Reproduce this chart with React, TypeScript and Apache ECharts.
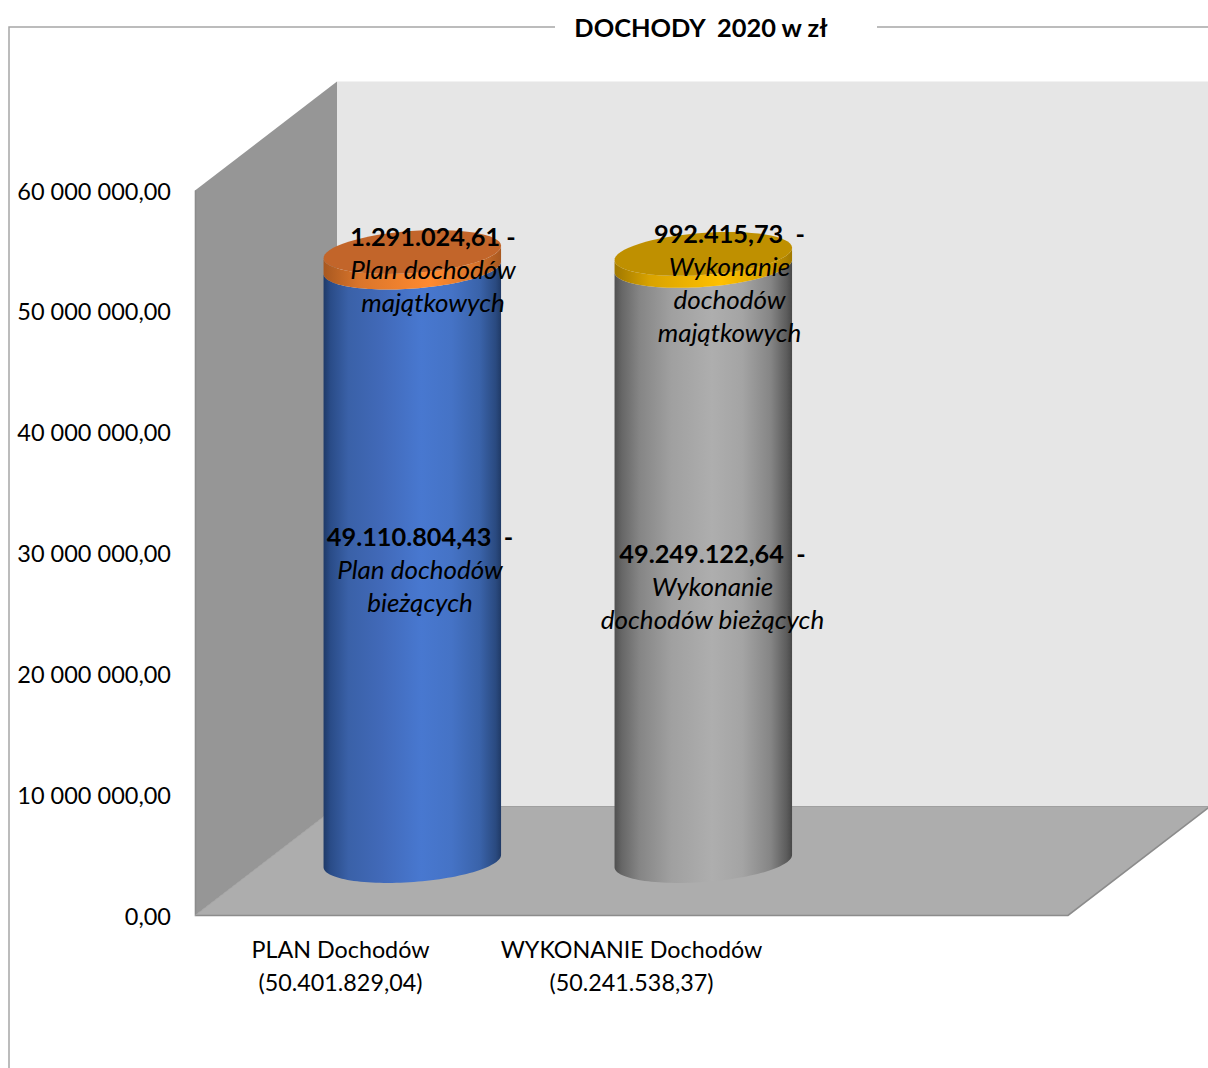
import React, { useEffect, useRef } from "react";
import * as echarts from "echarts";

const categories = ["PLAN Dochodów\n(50.401.829,04)", "WYKONANIE Dochodów\n(50.241.538,37)", ""];
const currentIncome = [49110804.43, 49249122.64];
const assetIncome = [1291024.61, 992415.73];
const yTicks = { min: 0, max: 60000000, interval: 10000000 };
const currentLabels = [
  ["49.110.804,43  -", "Plan dochodów", "bieżących"],
  ["49.249.122,64  -", "Wykonanie", "dochodów bieżących"],
];
const assetLabels = [
  ["1.291.024,61 -", "Plan dochodów", "majątkowych"],
  ["992.415,73  -", "Wykonanie", "dochodów", "majątkowych"],
];

const FONT = "Lato";
const DEPTH_X = 142;
const DEPTH_Y = 109;
const RX = 89;
const RY = 21;
const TILT = (4.2 * Math.PI) / 180;
const CYL_SHIFT = 0.8;
const currentOffsets = [[8.5, 4.5], [10, 23]];
const assetOffsets = [[21.5, 9.5], [27, 23]];

const h = (stops: [number, string][]) => ({
  type: "linear", x: 0, y: 0, x2: 1, y2: 0,
  colorStops: stops.map(([offset, color]) => ({ offset, color })),
});
const blueFill = h([[0, "#1f3a68"], [0.04, "#2a4c88"], [0.14, "#3a61a8"], [0.32, "#4169b8"], [0.55, "#4878d0"], [0.72, "#4573c6"], [0.88, "#3a63aa"], [0.97, "#2a4a80"], [1, "#203a66"]]);
const greyFill = h([[0, "#505050"], [0.04, "#666666"], [0.14, "#858585"], [0.32, "#a0a0a0"], [0.55, "#aeaeae"], [0.72, "#a4a4a4"], [0.88, "#858585"], [0.97, "#5c5c5c"], [1, "#484848"]]);
const orangeFill = h([[0, "#a85820"], [0.2, "#d9752b"], [0.6, "#ff8a30"], [0.85, "#d9752b"], [1, "#a85820"]]);
const goldFill = h([[0, "#a07800"], [0.2, "#d9a300"], [0.6, "#ffc000"], [0.85, "#d9a300"], [1, "#a07800"]]);
const sideFills = [[blueFill, greyFill], [orangeFill, goldFill]];
const capFills = ["#c2652a", "#bf9000"];

const STEPS = 64;
function pt(cx: number, cy: number, t: number) {
  const u = RX * Math.cos(t);
  const v = RY * Math.sin(t);
  const x = cx + u * Math.cos(TILT) + v * Math.sin(TILT);
  const y = cy - u * Math.sin(TILT) + v * Math.cos(TILT);
  return `${x.toFixed(2)} ${y.toFixed(2)}`;
}
function arc(cx: number, cy: number, t0: number, t1: number) {
  const out: string[] = [];
  for (let i = 0; i <= STEPS; i++) out.push(pt(cx, cy, t0 + ((t1 - t0) * i) / STEPS));
  return out;
}
function segment(cx: number, yBottom: number, yTop: number) {
  const pts = [...arc(cx, yBottom, Math.PI, 0), ...arc(cx, yTop, 0, Math.PI)];
  return `M${pts.join("L")}Z`;
}
function cap(cx: number, cy: number) {
  const pts = arc(cx, cy, 0, Math.PI * 2);
  return `M${pts.join("L")}Z`;
}

function renderRoom(params: any) {
  const { x, y, width, height } = params.coordSys;
  const bottom = y + height;
  const right = x + width;
  return {
    type: "group",
    children: [
      { type: "rect", shape: { x: x + DEPTH_X, y: y - DEPTH_Y, width: width + 10, height }, style: { fill: "#e6e6e6" } },
      { type: "polygon", shape: { points: [[x, y], [x + DEPTH_X, y - DEPTH_Y], [x + DEPTH_X, bottom - DEPTH_Y], [x, bottom]] }, style: { fill: "#969696" } },
      { type: "polygon", shape: { points: [[x, bottom], [right, bottom], [right + DEPTH_X, bottom - DEPTH_Y], [x + DEPTH_X, bottom - DEPTH_Y]] }, style: { fill: "#adadad" } },
      { type: "polyline", shape: { points: [[x + DEPTH_X, bottom - DEPTH_Y], [right + DEPTH_X, bottom - DEPTH_Y]] }, style: { fill: "none", stroke: "#a0a0a0", lineWidth: 1 } },
      { type: "polyline", shape: { points: [[x + 0.5, y], [x + 0.5, bottom], [right, bottom], [right + DEPTH_X, bottom - DEPTH_Y]] }, style: { fill: "none", stroke: "#8c8c8c", lineWidth: 1.6 } },
      { type: "polyline", shape: { points: [[x, bottom], [x + DEPTH_X, bottom - DEPTH_Y]] }, style: { fill: "none", stroke: "#a2a2a2", lineWidth: 1 } },
    ],
  };
}

function renderSegment(stackIndex: number) {
  return (_: any, api: any) => {
    const cat = api.value(0);
    const from = api.coord([cat, api.value(1)]);
    const to = api.coord([cat, api.value(2)]);
    const cx = from[0] + DEPTH_X / 2 + CYL_SHIFT;
    const yB = from[1] - DEPTH_Y / 2;
    const yT = to[1] - DEPTH_Y / 2;
    const children: any[] = [
      { type: "path", shape: { pathData: segment(cx, yB, yT) }, style: { fill: sideFills[stackIndex][cat] } },
    ];
    if (stackIndex === 1) {
      children.push({ type: "path", shape: { pathData: cap(cx, yT) }, style: { fill: capFills[cat] } });
    }
    return { type: "group", children };
  };
}

function renderLabel(lines: string[][], offsets: number[][]) {
  return (_: any, api: any) => {
    const cat = api.value(0);
    const p = api.coord([cat, (api.value(1) + api.value(2)) / 2]);
    const [first, ...rest] = lines[cat];
    const text = [`{b|${first}}`, ...rest.map((l) => `{i|${l}}`)].join("\n");
    return {
      type: "text",
      style: {
        x: p[0] + DEPTH_X / 2 + offsets[cat][0],
        y: p[1] - DEPTH_Y / 2 + offsets[cat][1],
        text,
        align: "center",
        verticalAlign: "middle",
        rich: {
          b: { fontFamily: FONT, fontSize: 25.3, fontWeight: "bold", fill: "#000", lineHeight: 33 },
          i: { fontFamily: FONT, fontSize: 26, fontStyle: "italic", fill: "#000", lineHeight: 33 },
        },
      },
    };
  };
}

export default function App() {
  const ref = useRef<HTMLDivElement>(null);
  useEffect(() => {
    const chart = echarts.init(ref.current!, undefined, { renderer: "svg" });
    const currentData = currentIncome.map((v, i) => [i, 0, v]);
    const assetData = assetIncome.map((v, i) => [i, currentIncome[i], currentIncome[i] + v]);
    const custom = (name: string, renderItem: any, data: any[]) => ({
      type: "custom", name, renderItem, data, clip: false, silent: true,
      encode: { x: 0, y: [1, 2] },
    });
    chart.setOption({
      animation: false,
      backgroundColor: "#ffffff",
      title: {
        text: "DOCHODY  2020 w zł",
        left: 696,
        top: 9,
        textAlign: "center",
        textStyle: { fontFamily: FONT, fontSize: 25.4, fontWeight: "bold", color: "#000" },
      },
      grid: { left: 195, top: 190.5, width: 873, height: 725 },
      xAxis: {
        type: "category",
        data: categories,
        axisLine: { show: false },
        axisTick: { show: false },
        axisLabel: { fontFamily: FONT, fontSize: 23.3, color: "#000", lineHeight: 33, margin: 17, interval: 0 },
      },
      yAxis: {
        type: "value",
        min: yTicks.min,
        max: yTicks.max,
        interval: yTicks.interval,
        axisLine: { show: false },
        axisTick: { show: false },
        splitLine: { show: false },
        axisLabel: {
          fontFamily: FONT,
          fontSize: 23.5,
          color: "#000",
          margin: 24,
          formatter: (v: number) => {
            const s = String(Math.round(v)).replace(/\B(?=(\d{3})+$)/g, " ");
            return `${s},00`;
          },
        },
      },
      graphic: [
        {
          type: "polyline",
          shape: { points: [[555, 27], [9, 27], [9, 1068]] },
          style: { fill: "none", stroke: "#a6a6a6", lineWidth: 1.5 },
        },
        {
          type: "line",
          shape: { x1: 877, y1: 27, x2: 1208, y2: 27 },
          style: { stroke: "#a6a6a6", lineWidth: 1.5 },
        },
      ],
      series: [
        custom("room", renderRoom, [[0, 0, 0]]),
        custom("Dochody bieżące", renderSegment(0), currentData),
        custom("Dochody majątkowe", renderSegment(1), assetData),
        custom("labels1", renderLabel(currentLabels, currentOffsets), currentData),
        custom("labels2", renderLabel(assetLabels, assetOffsets), assetData),
      ],
    });
    return () => chart.dispose();
  }, []);
  return <div ref={ref} style={{ position: "fixed", left: 0, top: 0, width: 1208, height: 1068 }} />;
}
